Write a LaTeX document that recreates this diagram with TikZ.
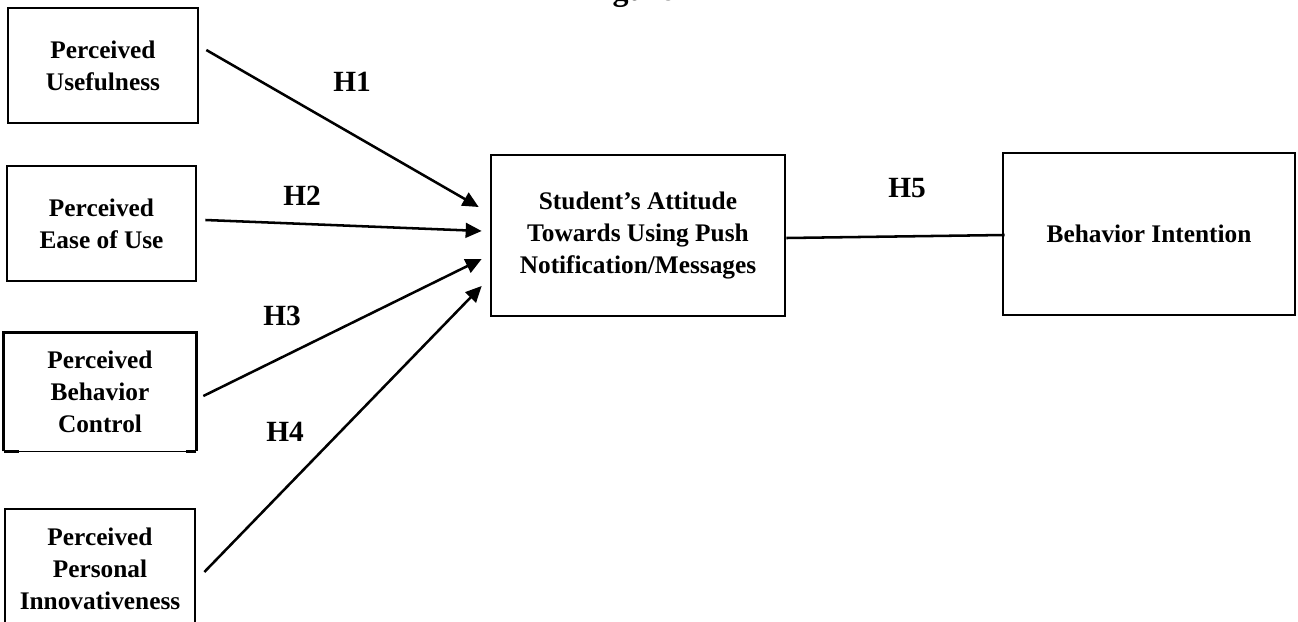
\documentclass[tikz,border=0pt]{standalone}
\usepackage{fontspec}
\setmainfont{Liberation Serif}
\usetikzlibrary{arrows.meta,calc}
\tikzset{
  box/.style={draw=black, line width=2pt, rectangle, align=center, inner sep=2pt,
    font=\bfseries\fontsize{19}{24}\selectfont},
  hlab/.style={font=\bfseries\fontsize{22}{24}\selectfont, inner sep=0pt},
  arr/.style={line width=1.9pt, -{Triangle[length=12pt,width=11pt]}},
  plain/.style={line width=1.9pt}
}
\begin{document}
\begin{tikzpicture}[x=0.75pt,y=-0.75pt]
\useasboundingbox (0,0) rectangle (1298,621);
\begin{scope}
\clip (0,0) rectangle (1298,621);
\node[anchor=base west, font=\bfseries\fontsize{24}{24}\selectfont, inner sep=0pt] (fig) at (584,0) {Figure 1};
\node[box, minimum width=142.5pt, minimum height=86.25pt] (pu) at (103,65.5) {Perceived\\Usefulness};
\node[box, minimum width=141.75pt, minimum height=86.25pt] (peou) at (101.5,223.5) {Perceived\\Ease of Use};
\node[box, draw=none, minimum width=142.5pt, minimum height=87pt] (pbc) at (100,392) {Perceived\\Behavior\\Control};
\node[box, minimum width=142.5pt, minimum height=90pt] (ppi) at (100,569) {Perceived\\Personal\\Innovativeness};
\node[box, minimum width=220.5pt, minimum height=120.75pt] (sa) at (638,235.5) {Student’s Attitude\\Towards Using Push\\Notification/Messages};
\node[box, minimum width=219pt, minimum height=121.5pt] (bi) at (1149,234) {Behavior Intention};
\end{scope}
% PBC box outline with thin bottom edge
\draw[line width=2pt] (pbc.south west) -- (pbc.north west) -- (pbc.north east) -- (pbc.south east);
\draw[line width=0.7pt] (pbc.south west) -- (pbc.south east);
\draw[line width=2pt] (pbc.south west) -- ++(15,0);
\draw[line width=2pt] (pbc.south east) -- ++(-10,0);
% connectors
\draw[arr] ([shift={(7,-15.5)}]pu.east) -- ([shift={(-11,-28.5)}]sa.west);
\draw[arr] ([shift={(8,-3.5)}]peou.east) -- ([shift={(-8,-4.5)}]sa.west);
\draw[arr] ([shift={(7,4)}]pbc.east) -- ([shift={(-8,23.5)}]sa.west);
\draw[arr] ([shift={(8,3)}]ppi.east) -- ([shift={(-8,50.5)}]sa.west);
\draw[plain] ([shift={(0,2.5)}]sa.east) -- ([shift={(3,1)}]bi.west);
% labels
\node[hlab] (h1) at (352,82) {H1};
\node[hlab] (h2) at (302,196) {H2};
\node[hlab] (h3) at (282,316) {H3};
\node[hlab] (h4) at (285,432) {H4};
\node[hlab] (h5) at (907,188) {H5};
\end{tikzpicture}
\end{document}
